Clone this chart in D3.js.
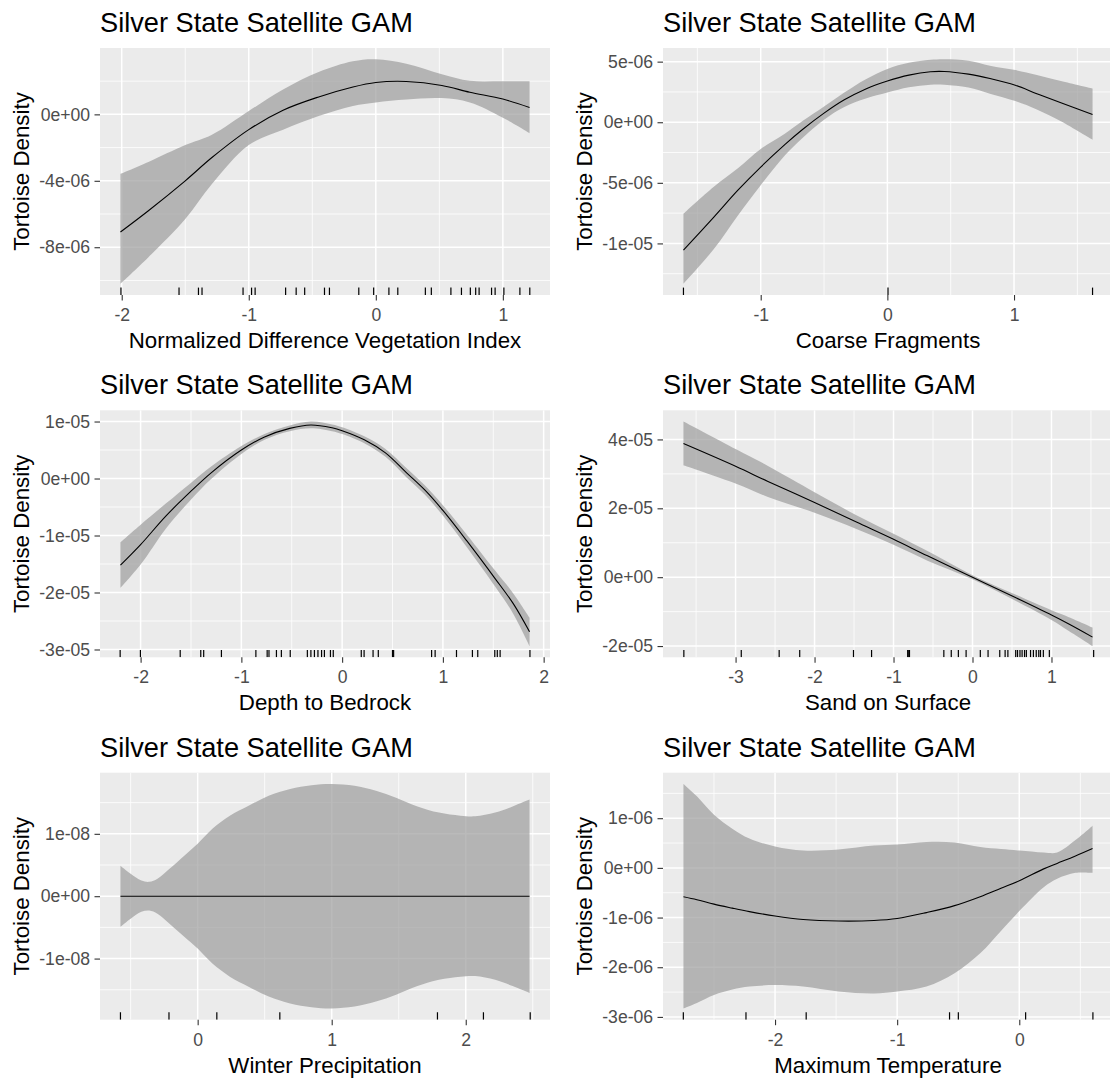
<!DOCTYPE html>
<html>
<head>
<meta charset="utf-8">
<script src="https://cdn.jsdelivr.net/npm/d3@7"></script>
<style>
  body { margin: 0; background: #ffffff; }
  text { font-family: "Liberation Sans", Arial, sans-serif; }
</style>
</head>
<body>
<svg id="chart" width="1110" height="1078"></svg>
<script>
// ---- Smooth terms of the Silver State Satellite GAM (fit and 95% band) ----

const plotTitle = "Silver State Satellite GAM";
const yAxisTitle = "Tortoise Density";

// Normalized Difference Vegetation Index
const ndviX     = [-2.01, -1.79, -1.5, -1.29, -1.0, -0.73, -0.45, -0.18, 0, 0.24, 0.52, 0.74, 1.0, 1.21];
const ndviFit   = [-7.08e-6, -5.8e-6, -4.0e-6, -2.6e-6, -0.92e-6, 0.25e-6, 1.05e-6, 1.65e-6, 1.92e-6, 1.98e-6, 1.74e-6, 1.33e-6, 0.92e-6, 0.41e-6];
const ndviUpper = [-3.59e-6, -2.87e-6, -1.85e-6, -1.23e-6, 0.2e-6, 1.5e-6, 2.55e-6, 3.2e-6, 3.32e-6, 3.05e-6, 2.42e-6, 2.02e-6, 1.99e-6, 1.99e-6];
const ndviLower = [-10.2e-6, -8.6e-6, -6.3e-6, -4.2e-6, -1.85e-6, -0.92e-6, -0.1e-6, 0.51e-6, 0.72e-6, 0.9e-6, 0.98e-6, 0.72e-6, -0.2e-6, -1.13e-6];
const ndviRug   = [-2.006, -1.549, -1.396, -1.368, -1.045, -0.978, -0.95, -0.71, -0.627, -0.56, -0.404, -0.365,
                   -0.134, -0.017, 0.103, 0.173, 0.39, 0.437, 0.591, 0.674, 0.744, 0.786, 0.813, 0.911, 0.939, 1.008, 1.134, 1.212];
const ndviXTicks = [-2, -1, 0, 1];
const ndviYTicks = [-8e-6, -4e-6, 0];
const ndviYLabels = ["-8e-06", "-4e-06", "0e+00"];

// Coarse Fragments
const coarseX     = [-1.61, -1.37, -1.18, -1.0, -0.81, -0.67, -0.5, -0.34, -0.17, 0, 0.17, 0.34, 0.45, 0.64, 0.81, 1.01, 1.18, 1.37, 1.62];
const coarseFit   = [-10.56e-6, -7.83e-6, -5.61e-6, -3.7e-6, -1.85e-6, -0.6e-6, 0.75e-6, 1.85e-6, 2.75e-6, 3.4e-6, 3.89e-6, 4.17e-6, 4.19e-6, 3.97e-6, 3.61e-6, 3.06e-6, 2.36e-6, 1.61e-6, 0.64e-6];
const coarseUpper = [-7.56e-6, -5.33e-6, -3.8e-6, -2.2e-6, -0.95e-6, 0.1e-6, 1.3e-6, 2.45e-6, 3.55e-6, 4.4e-6, 4.9e-6, 5.15e-6, 5.2e-6, 5.08e-6, 4.67e-6, 4.31e-6, 3.9e-6, 3.4e-6, 2.78e-6];
const coarseLower = [-13.33e-6, -10.47e-6, -7.69e-6, -5.2e-6, -2.75e-6, -1.3e-6, 0.2e-6, 1.25e-6, 1.95e-6, 2.45e-6, 2.88e-6, 3.1e-6, 3.1e-6, 2.86e-6, 2.36e-6, 1.75e-6, 1.06e-6, 0.08e-6, -1.44e-6];
const coarseRug   = [-1.61, 0.005, 1.62];
const coarseXTicks = [-1, 0, 1];
const coarseYTicks = [-1e-5, -5e-6, 0, 5e-6];
const coarseYLabels = ["-1e-05", "-5e-06", "0e+00", "5e-06"];

// Depth to Bedrock
const depthX     = [-2.2, -2.0, -1.75, -1.51, -1.3, -1.0, -0.77, -0.52, -0.31, -0.1, 0, 0.22, 0.43, 0.64, 0.82, 1.0, 1.24, 1.52, 1.7, 1.86];
const depthFit   = [-1.52e-5, -1.16e-5, -0.66e-5, -0.24e-5, 0.1e-5, 0.5e-5, 0.73e-5, 0.88e-5, 0.94e-5, 0.89e-5, 0.84e-5, 0.68e-5, 0.45e-5, 0.1e-5, -0.2e-5, -0.56e-5, -1.1e-5, -1.76e-5, -2.2e-5, -2.69e-5];
const depthUpper = [-1.12e-5, -0.81e-5, -0.44e-5, -0.09e-5, 0.21e-5, 0.57e-5, 0.78e-5, 0.93e-5, 1.0e-5, 0.95e-5, 0.9e-5, 0.74e-5, 0.52e-5, 0.18e-5, -0.12e-5, -0.47e-5, -0.99e-5, -1.62e-5, -2.02e-5, -2.44e-5];
const depthLower = [-1.92e-5, -1.51e-5, -0.88e-5, -0.39e-5, -0.01e-5, 0.43e-5, 0.68e-5, 0.83e-5, 0.88e-5, 0.83e-5, 0.78e-5, 0.62e-5, 0.38e-5, 0.02e-5, -0.28e-5, -0.65e-5, -1.21e-5, -1.9e-5, -2.38e-5, -2.94e-5];
const depthRug   = [-2.203, -2.002, -1.607, -1.403, -1.374, -1.198, -0.856, -0.744, -0.726, -0.652, -0.603, -0.515,
                    -0.345, -0.31, -0.275, -0.24, -0.204, -0.176, -0.116, -0.088, 0.19, 0.218, 0.307, 0.359, 0.5, 0.511,
                    0.888, 0.923, 1.135, 1.293, 1.346, 1.515, 1.54, 1.568, 1.864];
const depthXTicks = [-2, -1, 0, 1, 2];
const depthYTicks = [-3e-5, -2e-5, -1e-5, 0, 1e-5];
const depthYLabels = ["-3e-05", "-2e-05", "-1e-05", "0e+00", "1e-05"];

// Sand on Surface
const sandX     = [-3.66, -3.0, -2.59, -2.0, -1.47, -1.0, -0.57, 0, 0.55, 1.0, 1.22, 1.52];
const sandFit   = [3.88e-5, 3.22e-5, 2.78e-5, 2.17e-5, 1.6e-5, 1.1e-5, 0.62e-5, 0, -0.6e-5, -1.1e-5, -1.36e-5, -1.74e-5];
const sandUpper = [4.52e-5, 3.72e-5, 3.23e-5, 2.47e-5, 1.8e-5, 1.26e-5, 0.76e-5, 0.06e-5, -0.51e-5, -0.96e-5, -1.16e-5, -1.46e-5];
const sandLower = [3.25e-5, 2.72e-5, 2.33e-5, 1.87e-5, 1.4e-5, 0.94e-5, 0.48e-5, -0.06e-5, -0.69e-5, -1.24e-5, -1.56e-5, -2.0e-5];
const sandRug   = [-3.655, -2.928, -2.448, -2.188, -1.507, -1.278, -0.821, -0.807, -0.798, -0.363, -0.269, -0.179, -0.081,
                   0.099, 0.197, 0.345, 0.413, 0.448, 0.547, 0.57, 0.601, 0.628, 0.659, 0.682, 0.735, 0.771, 0.807, 0.839,
                   0.861, 0.897, 0.973, 1.534];
const sandXTicks = [-3, -2, -1, 0, 1];
const sandYTicks = [-2e-5, 0, 2e-5, 4e-5];
const sandYLabels = ["-2e-05", "0e+00", "2e-05", "4e-05"];

// Winter Precipitation
const winterX     = [-0.576, -0.5, -0.42, -0.36, -0.3, -0.21, -0.1, 0, 0.11, 0.24, 0.38, 0.53, 0.69, 0.85, 1.0, 1.17, 1.33, 1.48, 1.64, 1.8, 1.96, 2.07, 2.22, 2.35, 2.476];
const winterFit   = [0, 0, 0, 0, 0, 0, 0, 0, 0, 0, 0, 0, 0, 0, 0, 0, 0, 0, 0, 0, 0, 0, 0, 0, 0];
const winterUpper = [0.49e-8, 0.36e-8, 0.25e-8, 0.23e-8, 0.28e-8, 0.44e-8, 0.65e-8, 0.84e-8, 1.08e-8, 1.29e-8, 1.45e-8, 1.61e-8, 1.72e-8,
                     1.78e-8, 1.8e-8, 1.77e-8, 1.69e-8, 1.58e-8, 1.44e-8, 1.34e-8, 1.29e-8, 1.28e-8, 1.34e-8, 1.44e-8, 1.55e-8];
const winterLower = [-0.49e-8, -0.36e-8, -0.25e-8, -0.23e-8, -0.28e-8, -0.44e-8, -0.65e-8, -0.84e-8, -1.08e-8, -1.29e-8, -1.45e-8, -1.61e-8, -1.72e-8,
                     -1.78e-8, -1.8e-8, -1.77e-8, -1.69e-8, -1.58e-8, -1.44e-8, -1.34e-8, -1.29e-8, -1.28e-8, -1.34e-8, -1.44e-8, -1.55e-8];
const winterRug   = [-0.576, -0.214, 0.143, 0.613, 1.789, 2.132, 2.481];
const winterXTicks = [0, 1, 2];
const winterYTicks = [-1e-8, 0, 1e-8];
const winterYLabels = ["-1e-08", "0e+00", "1e-08"];

// Maximum Temperature
const tmaxX     = [-2.75, -2.64, -2.5, -2.35, -2.21, -2.0, -1.77, -1.48, -1.19, -1.0, -0.76, -0.53, -0.32, -0.15, 0, 0.2, 0.31, 0.46, 0.6];
const tmaxFit   = [-0.58e-6, -0.64e-6, -0.73e-6, -0.81e-6, -0.88e-6, -0.97e-6, -1.04e-6, -1.07e-6, -1.06e-6, -1.02e-6, -0.9e-6, -0.76e-6, -0.58e-6, -0.41e-6, -0.26e-6, -0.02e-6, 0.09e-6, 0.24e-6, 0.39e-6];
const tmaxUpper = [1.69e-6, 1.44e-6, 1.07e-6, 0.79e-6, 0.59e-6, 0.43e-6, 0.35e-6, 0.37e-6, 0.45e-6, 0.47e-6, 0.52e-6, 0.51e-6, 0.42e-6, 0.38e-6, 0.35e-6, 0.31e-6, 0.31e-6, 0.56e-6, 0.85e-6];
const tmaxLower = [-2.83e-6, -2.72e-6, -2.56e-6, -2.45e-6, -2.39e-6, -2.36e-6, -2.39e-6, -2.49e-6, -2.53e-6, -2.49e-6, -2.39e-6, -2.12e-6, -1.72e-6, -1.27e-6, -0.87e-6, -0.39e-6, -0.22e-6, -0.1e-6, -0.1e-6];
const tmaxRug   = [-2.751, -2.238, -1.745, -0.571, -0.499, 0.052, 0.603];
const tmaxXTicks = [-2, -1, 0];
const tmaxYTicks = [-3e-6, -2e-6, -1e-6, 0, 1e-6];
const tmaxYLabels = ["-3e-06", "-2e-06", "-1e-06", "0e+00", "1e-06"];

// ---- Panel table (2 columns x 3 rows) ----
const panels = [
  { col: 0, row: 0, xTitle: "Normalized Difference Vegetation Index", x: ndviX, fit: ndviFit, upper: ndviUpper, lower: ndviLower, rug: ndviRug, xTicks: ndviXTicks, yTicks: ndviYTicks, yLabels: ndviYLabels },
  { col: 1, row: 0, xTitle: "Coarse Fragments", x: coarseX, fit: coarseFit, upper: coarseUpper, lower: coarseLower, rug: coarseRug, xTicks: coarseXTicks, yTicks: coarseYTicks, yLabels: coarseYLabels },
  { col: 0, row: 1, xTitle: "Depth to Bedrock", x: depthX, fit: depthFit, upper: depthUpper, lower: depthLower, rug: depthRug, xTicks: depthXTicks, yTicks: depthYTicks, yLabels: depthYLabels },
  { col: 1, row: 1, xTitle: "Sand on Surface", x: sandX, fit: sandFit, upper: sandUpper, lower: sandLower, rug: sandRug, xTicks: sandXTicks, yTicks: sandYTicks, yLabels: sandYLabels },
  { col: 0, row: 2, xTitle: "Winter Precipitation", x: winterX, fit: winterFit, upper: winterUpper, lower: winterLower, rug: winterRug, xTicks: winterXTicks, yTicks: winterYTicks, yLabels: winterYLabels },
  { col: 1, row: 2, xTitle: "Maximum Temperature", x: tmaxX, fit: tmaxFit, upper: tmaxUpper, lower: tmaxLower, rug: tmaxRug, xTicks: tmaxXTicks, yTicks: tmaxYTicks, yLabels: tmaxYLabels }
];

// ---- Layout ----
const svg = d3.select("#chart");
svg.append("rect").attr("width", 1110).attr("height", 1078).attr("fill", "#ffffff");

const PW = 450, PH = 247;
const colLeft = [100, 663];
const rowTop = [48, 410.3, 772.7];
const TICK = 5.5, PAD = 4.4;
const tickFont = 17.6, axisFont = 22.3, titleFont = 27.2;

// ggplot-style 5% expansion of a data range
function expand(ext) {
  const d = (ext[1] - ext[0]) * 0.05;
  return [ext[0] - d, ext[1] + d];
}
// minor breaks halfway between major ones, kept inside the panel
function minorBreaks(ticks, dom) {
  const step = ticks[1] - ticks[0];
  const out = [];
  for (let i = -1; i < ticks.length; i++) {
    const v = ticks[0] + step * (i + 0.5);
    if (v >= dom[0] && v <= dom[1]) out.push(v);
  }
  return out;
}

panels.forEach((p, k) => {
  const L = colLeft[p.col], T = rowTop[p.row];
  const g = svg.append("g").attr("transform", `translate(${L},${T})`);

  const xs = d3.scaleLinear().domain(expand(d3.extent(p.x))).range([0, PW]);
  const ys = d3.scaleLinear().domain(expand([d3.min(p.lower), d3.max(p.upper)])).range([PH, 0]);

  // clip region for the panel
  const clipId = "clip" + k;
  g.append("clipPath").attr("id", clipId).append("rect").attr("width", PW).attr("height", PH);

  // background
  g.append("rect").attr("width", PW).attr("height", PH).attr("fill", "#EBEBEB");

  // grid
  const grid = g.append("g").attr("clip-path", `url(#${clipId})`);
  const xMin = minorBreaks(p.xTicks, xs.domain());
  const yMin = minorBreaks(p.yTicks, ys.domain());
  grid.selectAll(".xminor").data(xMin).join("line")
    .attr("x1", d => xs(d)).attr("x2", d => xs(d)).attr("y1", 0).attr("y2", PH)
    .attr("stroke", "#ffffff").attr("stroke-width", 0.8);
  grid.selectAll(".yminor").data(yMin).join("line")
    .attr("y1", d => ys(d)).attr("y2", d => ys(d)).attr("x1", 0).attr("x2", PW)
    .attr("stroke", "#ffffff").attr("stroke-width", 0.8);
  grid.selectAll(".xmajor").data(p.xTicks).join("line")
    .attr("x1", d => xs(d)).attr("x2", d => xs(d)).attr("y1", 0).attr("y2", PH)
    .attr("stroke", "#ffffff").attr("stroke-width", 1.5);
  grid.selectAll(".ymajor").data(p.yTicks).join("line")
    .attr("y1", d => ys(d)).attr("y2", d => ys(d)).attr("x1", 0).attr("x2", PW)
    .attr("stroke", "#ffffff").attr("stroke-width", 1.5);

  const idx = d3.range(p.x.length);
  const body = g.append("g").attr("clip-path", `url(#${clipId})`);

  // confidence band
  body.append("path")
    .attr("d", d3.area()
      .x(i => xs(p.x[i])).y0(i => ys(p.lower[i])).y1(i => ys(p.upper[i]))
      .curve(d3.curveCatmullRom.alpha(0.5))(idx))
    .attr("fill", "#999999").attr("fill-opacity", 0.68);

  // fitted smooth
  body.append("path")
    .attr("d", d3.line()
      .x(i => xs(p.x[i])).y(i => ys(p.fit[i]))
      .curve(d3.curveCatmullRom.alpha(0.5))(idx))
    .attr("fill", "none").attr("stroke", "#000000").attr("stroke-width", 1.1);

  // rug of observed covariate values
  body.selectAll(".rug").data(p.rug).join("line")
    .attr("x1", d => xs(d)).attr("x2", d => xs(d))
    .attr("y1", PH).attr("y2", PH - PH * 0.03)
    .attr("stroke", "#000000").attr("stroke-width", 1.2);

  // x axis
  const xAxis = g.append("g").attr("transform", `translate(0,${PH})`)
    .call(d3.axisBottom(xs).tickValues(p.xTicks).tickSize(TICK).tickPadding(PAD).tickFormat(d => String(d)));
  xAxis.select(".domain").remove();
  xAxis.selectAll(".tick line").attr("stroke", "#333333").attr("stroke-width", 1.1);
  xAxis.selectAll(".tick text")
    .attr("y", 26).attr("dy", null)
    .attr("fill", "#4D4D4D").attr("font-size", tickFont)
    .style("font-family", '"Liberation Sans", Arial, sans-serif');

  // y axis
  const yAxis = g.append("g")
    .call(d3.axisLeft(ys).tickValues(p.yTicks).tickSize(TICK).tickPadding(PAD)
      .tickFormat((d, i) => p.yLabels[i]));
  yAxis.select(".domain").remove();
  yAxis.selectAll(".tick line").attr("stroke", "#333333").attr("stroke-width", 1.1);
  yAxis.selectAll(".tick text")
    .attr("fill", "#4D4D4D").attr("font-size", tickFont)
    .style("font-family", '"Liberation Sans", Arial, sans-serif');

  // titles
  g.append("text").attr("x", 0).attr("y", -16)
    .attr("font-size", titleFont).attr("fill", "#000000")
    .text(plotTitle);
  g.append("text").attr("x", PW / 2).attr("y", PH + 53)
    .attr("text-anchor", "middle").attr("font-size", axisFont).attr("fill", "#000000")
    .text(p.xTitle);
  g.append("text")
    .attr("transform", `translate(-71,${PH / 2}) rotate(-90)`)
    .attr("text-anchor", "middle").attr("font-size", axisFont).attr("fill", "#000000")
    .text(yAxisTitle);
});
</script>
</body>
</html>
